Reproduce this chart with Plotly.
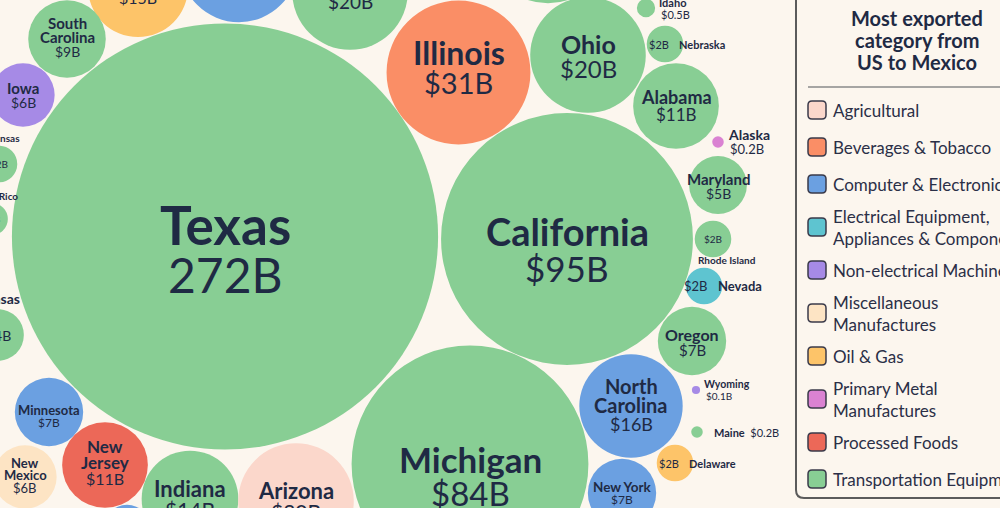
import plotly.graph_objects as go

FONT = "Lato"
TXT = "#1f2a44"
BG = "#fcf6ee"

# ---------------- data ----------------
states = ["Texas", "California", "Michigan", "Illinois", "Ohio", "", "", "",
          "South Carolina", "Iowa", "Arkansas", "Puerto Rico", "Kansas", "Minnesota",
          "New Jersey", "New Mexico", "", "Indiana", "Arizona", "Nebraska", "Idaho",
          "Alabama", "Alaska", "Maryland", "Rhode Island", "Nevada", "Oregon",
          "North Carolina", "Wyoming", "Maine", "Delaware", "New York", ""]
values = [272, 95, 84, 31, 20, 20, 21, 15,
          9, 6, 2, 1.5, 4, 7,
          11, 6, 3.5, 14, 20, 2, 0.5,
          11, 0.2, 5, 2, 2, 7,
          16, 0.1, 0.2, 2, 7, 24]
value_labels = ["272B", "$95B", "$84B", "$31B", "$20B", "$20B", "", "$15B",
                "$9B", "$6B", "$2B", "$1B", "$4B", "$7B",
                "$11B", "$6B", "", "$14B", "$20B", "$2B", "$0.5B",
                "$11B", "$0.2B", "$5B", "$2B", "$2B", "$7B",
                "$16B", "$0.1B", "$0.2B", "$2B", "$7B", ""]
category_names = ["Agricultural", "Beverages & Tobacco", "Computer & Electronics",
                  "Electrical Equipment, Appliances & Components", "Non-electrical Machinery",
                  "Miscellaneous Manufactures", "Oil & Gas", "Primary Metal Manufactures",
                  "Processed Foods", "Transportation Equipment"]
state_category = ["Transportation Equipment", "Transportation Equipment", "Transportation Equipment",
                  "Beverages & Tobacco", "Transportation Equipment", "Transportation Equipment",
                  "Computer & Electronics", "Oil & Gas",
                  "Transportation Equipment", "Non-electrical Machinery", "Transportation Equipment",
                  "Transportation Equipment", "Transportation Equipment", "Computer & Electronics",
                  "Processed Foods", "Miscellaneous Manufactures", "Computer & Electronics",
                  "Transportation Equipment", "Agricultural", "Transportation Equipment",
                  "Transportation Equipment", "Transportation Equipment", "Primary Metal Manufactures",
                  "Transportation Equipment", "Transportation Equipment",
                  "Electrical Equipment, Appliances & Components", "Transportation Equipment",
                  "Computer & Electronics", "Non-electrical Machinery", "Transportation Equipment",
                  "Oil & Gas", "Computer & Electronics", "Transportation Equipment"]

# packed-bubble layout (centre of each bubble, in page pixels)
pos_x = [225, 567, 470, 458.5, 588, 350, 239, 138,
         67, 23, -1, -8, -2, 49,
         105, 25, 127, 190, 296, 665, 646,
         676, 718, 718, 713, 704, 692,
         631, 696, 697, 675, 622, 548]
pos_y = [236.5, 239, 464, 72.5, 55, -8, -37, -13,
         39, 95, 164, 219, 335, 412,
         465, 477, 529, 499, 501, 44, 8,
         106, 142, 185, 239, 286, 341,
         406, 390, 432, 463, 493, -60]

# ---------------- styles ----------------
category_colors = {"Agricultural": "#fbd7cb", "Beverages & Tobacco": "#fa8e66",
                   "Computer & Electronics": "#6ba0e1",
                   "Electrical Equipment, Appliances & Components": "#5ec4d0",
                   "Non-electrical Machinery": "#a68ae6", "Miscellaneous Manufactures": "#fde4c4",
                   "Oil & Gas": "#fdc469", "Primary Metal Manufactures": "#da82d2",
                   "Processed Foods": "#ec6858", "Transportation Equipment": "#88ce94"}
legend_text = {"Electrical Equipment, Appliances & Components": "Electrical Equipment,<br>Appliances & Components",
               "Miscellaneous Manufactures": "Miscellaneous<br>Manufactures",
               "Primary Metal Manufactures": "Primary Metal<br>Manufactures"}
wrap_names = {"South Carolina", "New Jersey", "New Mexico", "North Carolina"}
# (mode, name font size, value font size, vertical offset of text block)
label_style = [("in", 53, 48, 13), ("in", 38, 35, 10.5), ("in", 35, 33, 11.5), ("in", 32, 29, -5),
               ("in", 25, 24, 1.5), ("in", 19, 19, 0), ("none", 0, 0, 0), ("in", 16, 16, 2),
               ("in", 15, 14, -1.5), ("in", 15, 14, 0), ("above", 10, 10, 0), ("above", 10, 9, 0),
               ("above", 14, 14, 0), ("in", 13, 12, 4),
               ("in", 17, 16, -2.5), ("in", 13, 13, -1.5), ("none", 0, 0, 0), ("in", 22, 21, 0),
               ("in", 22, 21, 0), ("right", 11, 11, 0), ("side", 11, 11, 0),
               ("in", 18, 17, 0), ("side", 14, 13, 0), ("in", 15, 14, 1), ("below", 10, 10, 0),
               ("right", 13, 13, 0), ("in", 16, 15, 1),
               ("in", 20, 18, -1), ("side", 10.5, 10, 0), ("inline", 11, 11, 0), ("right", 11, 11, 0),
               ("in", 13.5, 12, 0), ("none", 0, 0, 0)]

K = 12.92  # px radius per sqrt($B)

fig = go.Figure()
fig.update_layout(width=1000, height=508, margin=dict(l=0, r=0, t=0, b=0, pad=0),
                  paper_bgcolor=BG, plot_bgcolor=BG, showlegend=False,
                  xaxis=dict(range=[0, 1000], visible=False, fixedrange=True),
                  yaxis=dict(range=[508, 0], visible=False, fixedrange=True))
fig.add_trace(go.Scatter(x=pos_x, y=pos_y, mode="markers", marker=dict(size=1, opacity=0),
                         hoverinfo="skip"))


def label(x, y, text, size, bold=False, xanchor="center", align="center"):
    xs = min(max(x, 0.5), 999.5)
    ys = min(max(y, 0.5), 507.5)
    fig.add_annotation(x=xs, y=ys, xshift=x - xs, yshift=-(y - ys), xref="x", yref="y",
                       text=f"<b>{text}</b>" if bold else text, showarrow=False,
                       xanchor=xanchor, yanchor="middle", align=align, borderpad=0,
                       font=dict(family=FONT, size=size, color=TXT))


for name, v, vl, cat, cx, cy, st in zip(states, values, value_labels, state_category,
                                        pos_x, pos_y, label_style):
    r = K * v ** 0.5
    fig.add_shape(type="circle", xref="x", yref="y", x0=cx - r, x1=cx + r, y0=cy - r, y1=cy + r,
                  fillcolor=category_colors[cat], line=dict(width=0), layer="below")
    mode, nfs, vfs, dy = st
    if mode == "in":
        lines = name.split(" ", 1) if name in wrap_names else [name]
        ys = []
        y = 0
        for i in range(len(lines)):
            ys.append(y)
            y += 0.95 * nfs if i < len(lines) - 1 else 0
        yv = ys[-1] + 0.5 * (nfs + vfs)
        off = cy + dy - yv / 2
        for ln, yy in zip(lines, ys):
            if ln:
                label(cx, off + yy, ln, nfs, bold=True)
        label(cx, off + yv, vl, vfs)
    elif mode == "above":
        label(cx, cy - r - 0.75 * nfs, name, nfs, bold=True)
        label(cx, cy, vl, vfs)
    elif mode == "below":
        label(cx + 14, cy + r + 0.3 * nfs, name, nfs, bold=True)
        label(cx, cy, vl, vfs)
    elif mode == "right":
        label(cx + 5, cy, vl, vfs, xanchor="right")
        label(cx + 13, cy, name, nfs, bold=True, xanchor="left")
    elif mode == "side":
        label(cx + r + 3, cy - 0.5 * nfs - 0.5, name, nfs, bold=True, xanchor="left")
        label(cx + r + 5, cy + 0.5 * vfs + 0.5, vl, vfs, xanchor="left")
    elif mode == "inline":
        fig.add_annotation(x=cx + r + 9, y=cy, xref="x", yref="y",
                           text=f"<b>{name}</b>&nbsp;&nbsp;{vl}", showarrow=False,
                           xanchor="left", yanchor="middle",
                           font=dict(family=FONT, size=nfs, color=TXT))

# ---------------- legend panel ----------------
def rrect(x0, y0, x1, y1, r):
    return (f"M{x0 + r},{y0} L{x1 - r},{y0} Q{x1},{y0} {x1},{y0 + r} L{x1},{y1 - r} "
            f"Q{x1},{y1} {x1 - r},{y1} L{x0 + r},{y1} Q{x0},{y1} {x0},{y1 - r} "
            f"L{x0},{y0 + r} Q{x0},{y0} {x0 + r},{y0} Z")


fig.add_shape(type="path", xref="x", yref="y",
              path="M796,-10 L796,490 Q796,498 804,498 L1010,498",
              line=dict(color="#5b5b5b", width=2))
for i, t in enumerate(["Most exported", "category from", "US to Mexico"]):
    label(917, 18 + 22 * i, t, 20, bold=True)
fig.add_shape(type="line", xref="x", yref="y", x0=808, x1=1000, y0=87, y1=87,
              line=dict(color="#8a8a8a", width=1.5))

y = 110
prev_h = None
for cat in category_names:
    txt = legend_text.get(cat, cat)
    h = 32 if "<br>" in txt else 20
    if prev_h is not None:
        y += (prev_h + h) / 2 + 17
    prev_h = h
    fig.add_shape(type="path", xref="x", yref="y", path=rrect(808, y - 9, 826, y + 9, 4),
                  fillcolor=category_colors[cat], line=dict(color="#3a3a4a", width=1.5))
    fig.add_annotation(x=831, y=y, xref="x", yref="y", text=txt, showarrow=False,
                       xanchor="left", yanchor="middle", align="left",
                       font=dict(family=FONT, size=17, color="#2b2f47"))

fig.write_html("out.html", post_script="document.body.style.margin='0';")
